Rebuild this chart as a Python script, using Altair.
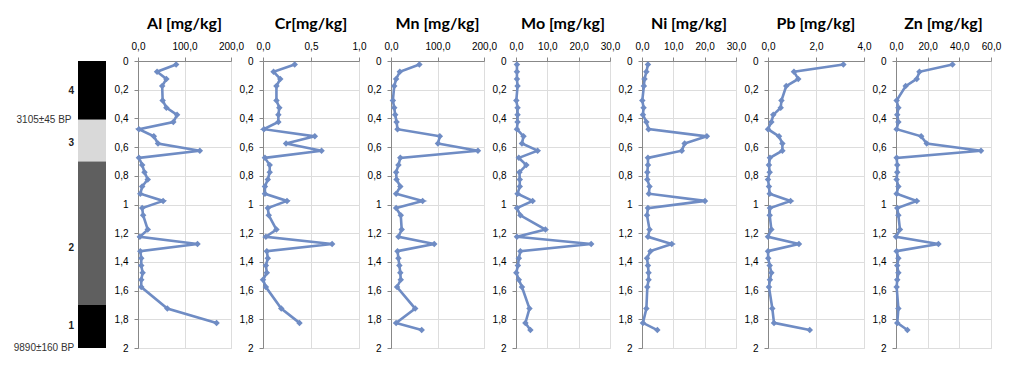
import altair as alt
import pandas as pd

# ---- data -------------------------------------------------------------
depth = [0.025, 0.075, 0.125, 0.175, 0.275, 0.325, 0.375, 0.425, 0.475, 0.525,
         0.575, 0.625, 0.675, 0.725, 0.775, 0.825, 0.875, 0.925, 0.975, 1.025,
         1.075, 1.175, 1.225, 1.275, 1.325, 1.375, 1.425, 1.475, 1.525, 1.575,
         1.725, 1.825, 1.875]

al = [82, 41, 61, 52, 53, 61, 84, 76, 2, 34, 43, 133, 2, 9, 14, 21, 9, 5, 54,
      9, 11, 21, 4, 128, 5, 7, 7, 10, 7, 7, 63, 169]
cr = [0.33, 0.11, 0.18, 0.14, 0.14, 0.17, 0.16, 0.16, 0.01, 0.54, 0.24, 0.61,
      0.02, 0.07, 0.07, 0.05, 0.02, 0.02, 0.25, 0.05, 0.06, 0.14, 0.03, 0.72,
      0.04, 0.05, 0.03, 0.04, 0.0, 0.03, 0.19, 0.38]
mn = [61, 19, 11, 7, 4, 7, 9, 12, 14, 105, 101, 187, 20, 16, 11, 12, 20, 11,
      68, 11, 21, 23, 16, 93, 14, 16, 18, 20, 21, 13, 52, 11, 66]
mo = [0.3, 0.3, 0.3, 0.5, 0.1, 0.5, 0.5, 0.5, 0.3, 2.4, 1.9, 6.9, 0.9, 3.3,
      1.1, 1.2, 1.2, 0.5, 5.3, 0.3, 1.4, 9.4, 0.3, 24.0, 1.4, 0.9, 0.6, 0.1,
      0.9, 1.9, 4.3, 3.0, 4.6]
ni = [1.9, 1.4, 0.8, 0.6, 0.1, 0.5, 0.3, 1.4, 2.1, 20.7, 13.6, 12.7, 1.9, 1.9,
      1.7, 1.7, 2.4, 2.2, 20.1, 1.9, 1.6, 2.4, 1.9, 9.5, 2.7, 1.6, 1.9, 2.1,
      2.1, 1.7, 1.4, 0.3, 4.9]
pb = [3.14, 1.08, 1.26, 0.76, 0.56, 0.53, 0.22, 0.14, 0.0, 0.46, 0.6, 0.6,
      0.08, 0.04, 0.07, 0.0, 0.04, 0.07, 0.94, 0.08, 0.07, 0.14, 0.0, 1.29,
      0.0, 0.01, 0.07, 0.14, 0.08, 0.04, 0.18, 0.25, 1.74]
zn = [35.7, 14.8, 13.1, 6.1, 0.4, 1.5, 0.8, 1.5, 0.4, 15.9, 19.4, 53.7, 0.4,
      0.8, 0.8, 0.4, 1.5, 0.4, 13.1, 0.8, 1.5, 2.5, 0.0, 26.8, 0.4, 1.5, 0.8,
      1.5, 0.8, 0.4, 1.5, 0.8, 7.2]

titles = ["Al [mg/kg]", "Cr[mg/kg]", "Mn [mg/kg]", "Mo [mg/kg]",
          "Ni [mg/kg]", "Pb [mg/kg]", "Zn [mg/kg]"]
series = [al, cr, mn, mo, ni, pb, zn]
x_max = [200, 1.0, 200, 30, 30, 4, 60]
x_ticks = [[0, 100, 200], [0, 0.5, 1.0], [0, 100, 200], [0, 10, 20, 30],
           [0, 10, 20, 30], [0, 2, 4], [0, 20, 40, 60]]
y_ticks = [0, 0.2, 0.4, 0.6, 0.8, 1, 1.2, 1.4, 1.6, 1.8, 2]

layers = ["4", "3", "2", "1"]
layer_top = [0, 0.41, 0.70, 1.70]
layer_bottom = [0.41, 0.70, 1.70, 2.0]
layer_label_depth = [0.21, 0.57, 1.30, 1.85]
dates = ["3105±45 BP", "9890±160 BP"]
date_depth = [0.41, 2.0]

# ---- styling ----------------------------------------------------------
BLUE = "#6f8cc4"
GRID = "#a3a3a3"
PANEL_W = [93, 96, 93, 94, 94, 96, 95]
H = 287
LABEL_FONT = "Liberation Sans"
TITLE_FONT = "Lato"

yscale = alt.Scale(domain=[0, 2], reverse=True, nice=False, zero=False)


def panel(title, vals, xmax, ticks, w):
    df = pd.DataFrame({"depth": depth[:len(vals)], "value": vals})
    chart = alt.Chart(df).mark_line(
        color=BLUE, strokeWidth=2.6,
        point=alt.OverlayMarkDef(shape="diamond", size=42, filled=True,
                                 color=BLUE, opacity=1),
    ).encode(
        x=alt.X("value:Q",
                scale=alt.Scale(domain=[0, xmax], nice=False, zero=True),
                axis=alt.Axis(orient="top", values=ticks, format=".1f",
                              labelExpr="replace(datum.label, '.', ',')",
                              labelFlush=False, labelOverlap=False,
                              title=None, tickSize=4, labelPadding=6)),
        y=alt.Y("depth:Q", scale=yscale,
                axis=alt.Axis(values=y_ticks, format=".1~f",
                              labelExpr="replace(datum.label, '.', ',')",
                              labelFlush=False, labelOverlap=False,
                              title=None, tickSize=4, labelPadding=6)),
        order=alt.Order("depth:Q"),
    ).properties(
        width=w, height=H,
        title=alt.TitleParams(title, fontSize=16, fontWeight="bold",
                              font=TITLE_FONT, color="#000000",
                              anchor="middle", offset=9),
    )
    return chart


strat_df = pd.DataFrame({"layer": layers, "top": layer_top,
                         "bottom": layer_bottom,
                         "label_depth": layer_label_depth})
date_df = pd.DataFrame({"date": dates, "d": date_depth})

rects = alt.Chart(strat_df).mark_rect().encode(
    y=alt.Y("top:Q", scale=yscale, axis=None),
    y2="bottom:Q",
    color=alt.Color("layer:N", legend=None,
                    scale=alt.Scale(domain=layers,
                                    range=["#000000", "#d9d9d9",
                                           "#5f5f5f", "#000000"])),
)
layer_text = alt.Chart(strat_df).mark_text(
    align="right", baseline="middle", fontSize=10, fontWeight="bold",
    font=LABEL_FONT, color="#222222",
).encode(y=alt.Y("label_depth:Q", scale=yscale, axis=None),
         x=alt.value(-4), text="layer:N")
date_text = alt.Chart(date_df).mark_text(
    align="center", baseline="middle", fontSize=10, font=LABEL_FONT,
    color="#333333",
).encode(y=alt.Y("d:Q", scale=yscale, axis=None),
         x=alt.value(-34), text="date:N")

strat = alt.layer(rects, layer_text, date_text).properties(
    width=28, height=H, view=alt.ViewBackground(stroke="transparent"))

panels = [panel(t, v, m, tk, w)
          for t, v, m, tk, w in zip(titles, series, x_max, x_ticks, PANEL_W)]

chart = alt.hconcat(strat, *panels, spacing=32, bounds="flush").properties(
    padding={"left": 5, "top": 7, "right": 5, "bottom": 5}
).configure_view(
    stroke=GRID, strokeWidth=1
).configure_axis(
    gridColor=GRID, gridOpacity=1, domainColor=GRID, tickColor=GRID,
    labelColor="#404040", labelFont=LABEL_FONT, labelFontSize=8.5,
    domain=True,
).configure(background="white")

chart.save("out.html", embed_options={"renderer": "svg", "actions": False})
